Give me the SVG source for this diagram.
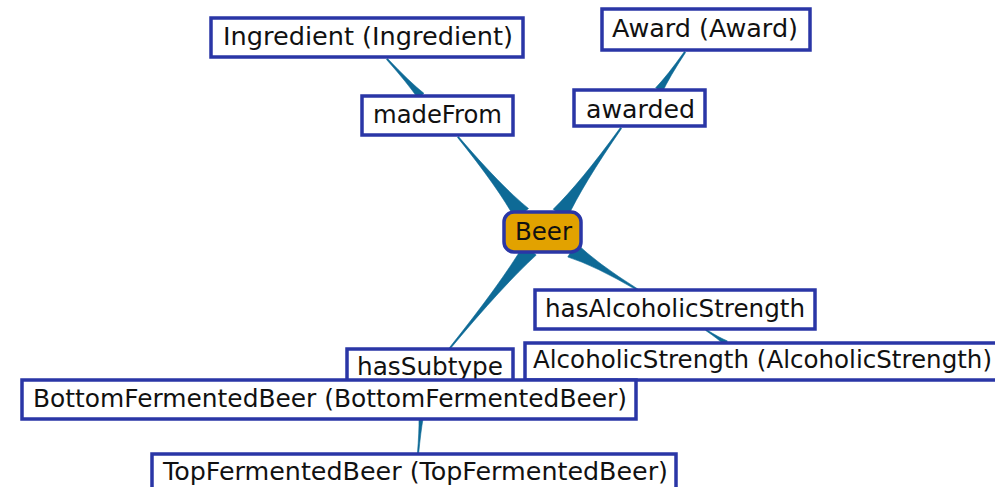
<svg xmlns="http://www.w3.org/2000/svg" width="995" height="487" viewBox="0 0 995 487">
  <style>
    .box { fill: #ffffff; stroke: #2a36a6; stroke-width: 3.5; }
    .root { fill: #e2a200; stroke: #2a36a6; stroke-width: 3.5; }
    .label { font-family: "DejaVu Sans", Verdana, sans-serif; font-size: 24px; fill: #111111; }
    .link { fill: #0e6a96; stroke: #0e6a96; stroke-width: 0.6; stroke-linejoin: round; }
  </style>
  <rect width="995" height="487" fill="#ffffff"/>

  <!-- tapered connectors: thin at the far node, flared at the near node -->
  <g id="connectors">
    <path class="link" d="M386.5,59.5 Q408.2,83.9 418.1,98.7 L423.9,93.3 Q410.0,82.3 387.5,58.5 Z"/>
    <path class="link" d="M457.5,137.4 Q498.4,188.1 515.5,219.5 L528.5,208.5 Q500.8,186.1 458.5,136.6 Z"/>
    <path class="link" d="M620.4,127.6 Q580.2,183.0 553.2,209.2 L566.8,218.8 Q582.6,184.8 621.6,128.4 Z"/>
    <path class="link" d="M684.4,51.6 Q667.1,76.0 655.7,87.7 L662.3,92.3 Q669.1,77.4 685.6,52.4 Z"/>
    <path class="link" d="M638.4,289.4 Q595.9,262.7 576.2,243.0 L567.8,257.0 Q594.3,265.3 637.6,290.6 Z"/>
    <path class="link" d="M450.5,348.4 Q503.2,285.2 536.2,255.1 L523.8,244.9 Q500.8,283.4 449.5,347.6 Z"/>
    <path class="link" d="M705.7,330.5 Q718.6,339.2 724.6,345.1 L727.4,340.9 Q719.4,337.8 706.3,329.5 Z"/>
    <path class="link" d="M418.6,454 Q420.8,431.3 423,419 L419,419 Q419.2,431.3 417.4,454 Z"/>
  </g>

  <g id="node-ingredient">
    <rect class="box" x="211" y="18" width="312" height="39"/>
    <text class="label" x="223" y="45" textLength="290" lengthAdjust="spacingAndGlyphs">Ingredient (Ingredient)</text>
  </g>
  <g id="node-madeFrom">
    <rect class="box" x="362" y="96" width="151" height="39"/>
    <text class="label" x="373" y="123" textLength="129" lengthAdjust="spacingAndGlyphs">madeFrom</text>
  </g>
  <g id="node-award">
    <rect class="box" x="602" y="9" width="208" height="41"/>
    <text class="label" x="612" y="37" textLength="186" lengthAdjust="spacingAndGlyphs">Award (Award)</text>
  </g>
  <g id="node-awarded">
    <rect class="box" x="574" y="90" width="131" height="36"/>
    <text class="label" x="586" y="118" textLength="109" lengthAdjust="spacingAndGlyphs">awarded</text>
  </g>
  <g id="node-beer">
    <rect class="root" x="504" y="212" width="77" height="40" rx="10" ry="10"/>
    <text class="label" x="515" y="240" textLength="57" lengthAdjust="spacingAndGlyphs">Beer</text>
  </g>
  <g id="node-hasAlcoholicStrength">
    <rect class="box" x="535" y="290" width="280" height="39"/>
    <text class="label" x="545" y="317" textLength="260" lengthAdjust="spacingAndGlyphs">hasAlcoholicStrength</text>
  </g>
  <g id="node-alcoholicStrength">
    <rect class="box" x="525" y="343" width="475" height="37"/>
    <text class="label" x="533" y="368" textLength="459" lengthAdjust="spacingAndGlyphs">AlcoholicStrength (AlcoholicStrength)</text>
  </g>
  <g id="node-hasSubtype">
    <rect class="box" x="347" y="349" width="166" height="38"/>
    <text class="label" x="357" y="375" textLength="146" lengthAdjust="spacingAndGlyphs">hasSubtype</text>
  </g>
  <g id="node-bottomFermentedBeer">
    <rect class="box" x="22" y="380" width="614" height="39"/>
    <text class="label" x="33" y="407" textLength="594" lengthAdjust="spacingAndGlyphs">BottomFermentedBeer (BottomFermentedBeer)</text>
  </g>
  <g id="node-topFermentedBeer">
    <rect class="box" x="152" y="454" width="524" height="42"/>
    <text class="label" x="163" y="480" textLength="505" lengthAdjust="spacingAndGlyphs">TopFermentedBeer (TopFermentedBeer)</text>
  </g>
</svg>
